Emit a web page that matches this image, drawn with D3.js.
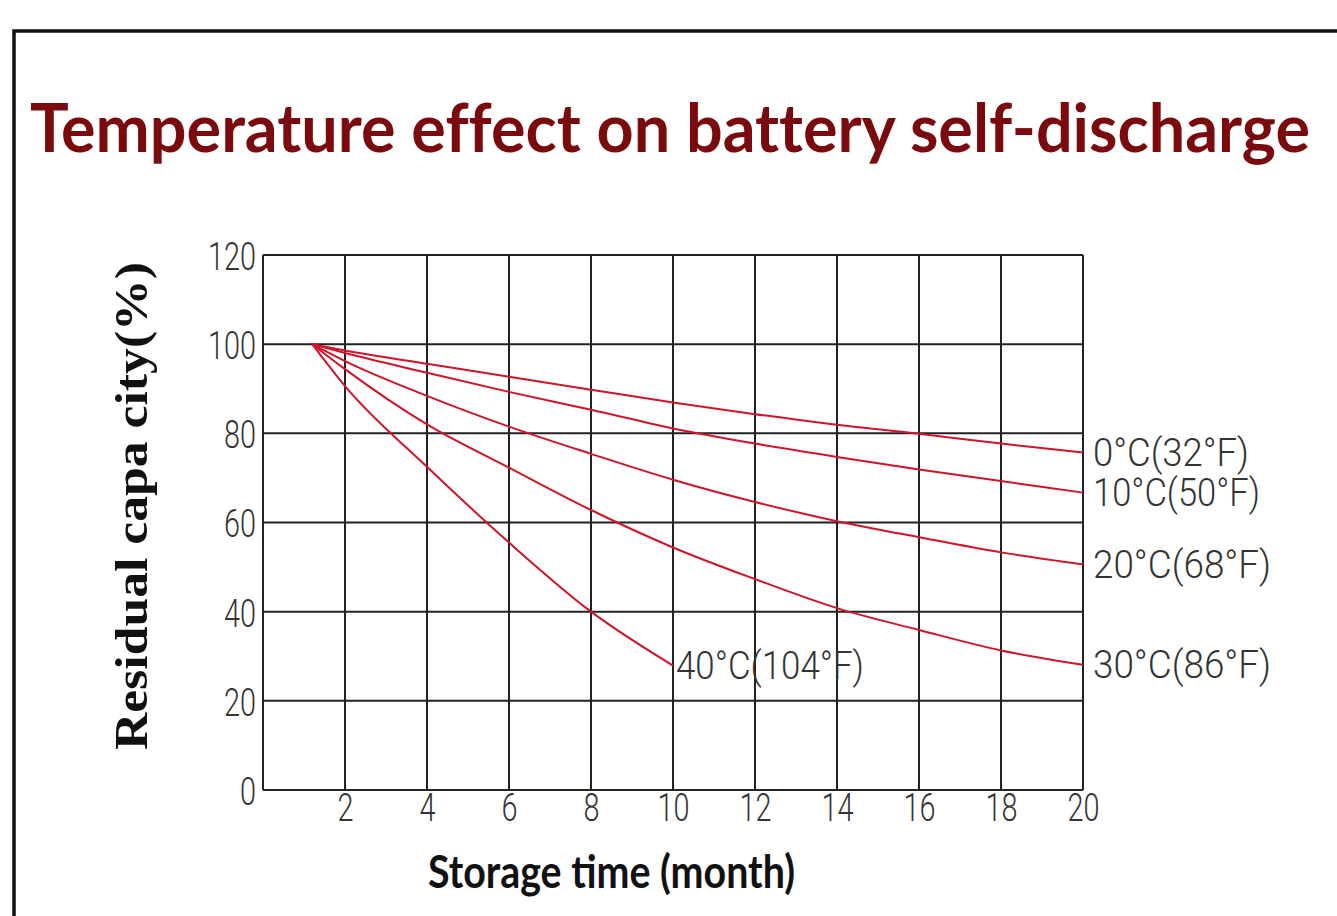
<!DOCTYPE html>
<html>
<head>
<meta charset="utf-8">
<script src="https://cdn.jsdelivr.net/npm/d3@7"></script>
<style>
  body { margin: 0; background: #fff; }
  svg { display: block; }
  .tick-label { font-family: Roboto, "DejaVu Sans Condensed", sans-serif; font-weight: 300; fill: #333; }
</style>
</head>
<body>
<svg id="chart" width="1337" height="916"></svg>
<script>
// Chart data
const months = [1.2, 2, 4, 6, 8, 10, 12, 14, 16, 18, 20];
const cap0C  = [100, 98.6, 95.6, 92.7, 89.8, 86.9, 84.3, 81.9, 79.9, 77.7, 75.7];
const cap10C = [100, 98.0, 93.6, 89.3, 85.3, 81.1, 77.7, 74.7, 71.9, 69.3, 66.7];
const cap20C = [100, 96.2, 88.4, 81.5, 75.4, 69.6, 64.6, 60.3, 56.7, 53.3, 50.6];
const cap30C = [100, 94.4, 82.0, 72.3, 62.8, 54.4, 47.3, 40.8, 35.9, 31.3, 28.1];
const months40 = [1.2, 2, 4, 6, 8, 10];
const cap40C = [100, 90.6, 72.5, 55.5, 40, 27.9];

const seriesLabels = ["0°C(32°F)", "10°C(50°F)", "20°C(68°F)", "30°C(86°F)", "40°C(104°F)"];
const labelWidths = [156, 167, 178, 178, 188];
const xTicks = [2, 4, 6, 8, 10, 12, 14, 16, 18, 20];
const yTicks = [0, 20, 40, 60, 80, 100, 120];

const title = "Temperature effect on battery self-discharge";
const xTitle = "Storage time (month)";
const yTitle = "Residual capa city(%)";

const series = [
    { label: seriesLabels[0], xs: months, ys: cap0C },
    { label: seriesLabels[1], xs: months, ys: cap10C },
    { label: seriesLabels[2], xs: months, ys: cap20C },
    { label: seriesLabels[3], xs: months, ys: cap30C },
    { label: seriesLabels[4], xs: months40, ys: cap40C }
];

const svg = d3.select("#chart");

// Outer frame (top and left edges visible)
svg.append("path")
    .attr("d", "M14,916 L14,31 L1337,31")
    .attr("fill", "none")
    .attr("stroke", "#111")
    .attr("stroke-width", 3.5);

// Title
svg.append("text")
    .attr("x", 30)
    .attr("y", 152)
    .attr("textLength", 1280)
    .attr("lengthAdjust", "spacingAndGlyphs")
    .style("font-family", "Lato, 'Open Sans', sans-serif")
    .style("font-weight", "bold")
    .style("font-size", "66px")
    .style("font-variant-ligatures", "none")
    .style("fill", "#7a0a0e")
    .text(title);

// Scales
const x = d3.scaleLinear().domain([0, 20]).range([263, 1083]);
const y = d3.scaleLinear().domain([0, 120]).range([790, 255]);

// Grid
const grid = svg.append("g");
grid.selectAll(".vline")
    .data([0].concat(xTicks))
    .enter()
    .append("line")
    .attr("x1", d => x(d)).attr("x2", d => x(d))
    .attr("y1", y(0)).attr("y2", y(120))
    .attr("stroke", "#222")
    .attr("stroke-width", 2);
grid.selectAll(".hline")
    .data(yTicks)
    .enter()
    .append("line")
    .attr("x1", x(0)).attr("x2", x(20))
    .attr("y1", d => y(d)).attr("y2", d => y(d))
    .attr("stroke", "#222")
    .attr("stroke-width", 2);

// Axes (labels only, grid drawn above)
const yAxis = svg.append("g")
    .attr("transform", `translate(${x(0)},0)`)
    .call(d3.axisLeft(y).tickValues(yTicks).tickSize(0).tickPadding(7));
yAxis.select(".domain").remove();
yAxis.selectAll("text")
    .attr("class", "tick-label")
    .attr("dy", "0.38em")
    .attr("textLength", d => String(d).length * 16)
    .attr("lengthAdjust", "spacingAndGlyphs")
    .style("font-size", "38px");

const xAxis = svg.append("g")
    .attr("transform", `translate(0,${y(0)})`)
    .call(d3.axisBottom(x).tickValues(xTicks).tickSize(0).tickPadding(4));
xAxis.select(".domain").remove();
xAxis.selectAll("text")
    .attr("class", "tick-label")
    .attr("textLength", d => String(d).length * 16)
    .attr("lengthAdjust", "spacingAndGlyphs")
    .style("font-size", "38px");

// Curves
const line = d3.line()
    .x(d => x(d[0]))
    .y(d => y(d[1]))
    .curve(d3.curveMonotoneX);

series.forEach((s, k) => {
    const pts = s.xs.map((m, i) => [m, s.ys[i]]);
    svg.append("path")
        .datum(pts)
        .attr("d", line)
        .attr("fill", "none")
        .attr("stroke", "#d0142a")
        .attr("stroke-width", 2);

    const last = pts[pts.length - 1];
    svg.append("text")
        .attr("class", "tick-label")
        .attr("x", x(last[0]) + (last[0] < 20 ? 3 : 10))
        .attr("y", y(last[1]))
        .attr("dy", "0.36em")
        .attr("textLength", labelWidths[k])
        .attr("lengthAdjust", "spacingAndGlyphs")
        .style("font-size", "38px")
        .text(s.label);
});

// Axis titles
svg.append("text")
    .attr("x", 428)
    .attr("y", 888)
    .attr("textLength", 367)
    .attr("lengthAdjust", "spacingAndGlyphs")
    .style("font-family", "Lato, 'Open Sans', sans-serif")
    .style("font-weight", "bold")
    .style("font-size", "46px")
    .style("fill", "#111")
    .text(xTitle);

svg.append("text")
    .attr("transform", "translate(147,750) rotate(-90)")
    .attr("textLength", 488)
    .attr("lengthAdjust", "spacingAndGlyphs")
    .style("font-family", "'Liberation Serif', 'DejaVu Serif', serif")
    .style("font-weight", "bold")
    .style("font-size", "46px")
    .style("fill", "#111")
    .text(yTitle);
</script>
</body>
</html>
